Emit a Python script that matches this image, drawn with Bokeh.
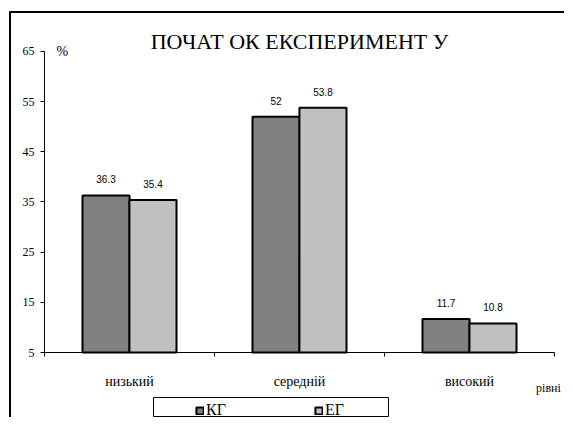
from bokeh.plotting import figure
from bokeh.models import (ColumnDataSource, Range1d, LinearAxis, FixedTicker,
                          Label, Legend, LegendItem, BoxAnnotation)
from bokeh.transform import dodge
from bokeh.embed import file_html
from bokeh.resources import INLINE
from bokeh.core.properties import value

# ---- data ----
chart_title = "ПОЧАТ ОК ЕКСПЕРИМЕНТ У"
categories = ["низький", "середній", "високий"]
series_names = ["КГ", "ЕГ"]
kg_values = [36.3, 52.0, 11.7]
eg_values = [35.4, 53.8, 10.8]
y_ticks = [5, 15, 25, 35, 45, 55, 65]
y_unit = "%"
x_unit = "рівні"

SERIF = "Liberation Serif"
SANS = "Liberation Sans"

# ---- layout (pixels) ----
W, H = 555, 406          # canvas size
CX0, CY0 = 10, 14        # canvas origin on the page
PX_X = 170.0             # px per category
PX_Y = 5.017             # px per percent
AX_X, AX_Y = 43, 353     # page px of (x=0, y=5)

def sx(px):
    return (px - AX_X) / PX_X

def sy(py):
    return y_ticks[0] - (py - AX_Y) / PX_Y

centers = [i + 0.5 for i in range(len(categories))]
bounds = list(range(len(categories) + 1))

src = ColumnDataSource(dict(
    x=centers,
    kg=kg_values,
    eg=eg_values,
    kg_lbl=[f"{v:g}" for v in kg_values],
    eg_lbl=[f"{v:g}" for v in eg_values],
))

p = figure(width=W, height=H,
           x_range=Range1d(sx(CX0), sx(CX0 + W)),
           y_range=Range1d(sy(CY0 + H), sy(CY0)),
           x_axis_type=None, y_axis_type=None,
           output_backend="svg", toolbar_location=None,
           min_border_left=0, min_border_right=0,
           min_border_top=0, min_border_bottom=0)
p.outline_line_color = None
p.background_fill_color = "white"
p.border_fill_color = "white"
p.styles = {"border-left": "2px solid black", "border-top": "2px solid black",
            "margin-top": "11px", "margin-left": "9px"}

yax = LinearAxis(ticker=FixedTicker(ticks=y_ticks, minor_ticks=[]),
                 fixed_location=0, bounds=(y_ticks[0], y_ticks[-1]),
                 major_tick_out=4, major_tick_in=0, minor_tick_out=0, minor_tick_in=0,
                 major_label_standoff=6,
                 major_label_text_font=SERIF, major_label_text_font_size="12px",
                 major_label_text_color="black",
                 axis_line_color="black", major_tick_line_color="black")
p.add_layout(yax, "left")

xax = LinearAxis(ticker=FixedTicker(ticks=centers, minor_ticks=bounds),
                 fixed_location=y_ticks[0], bounds=(0, len(categories)),
                 major_label_overrides={c: n for c, n in zip(centers, categories)},
                 major_tick_line_color=None, major_tick_out=0, major_tick_in=0,
                 minor_tick_out=4, minor_tick_in=0, minor_tick_line_color="black",
                 major_label_standoff=17,
                 major_label_text_font=SERIF, major_label_text_font_size="14px",
                 major_label_text_color="black",
                 axis_line_color="black")
p.add_layout(xax, "below")

bw = 0.277
off = 0.138
r_kg = p.vbar(x=dodge("x", -off), top="kg", bottom=y_ticks[0], width=bw,
              fill_color="#808080", line_color="black", line_width=2, source=src)
r_eg = p.vbar(x=dodge("x", off), top="eg", bottom=y_ticks[0], width=bw,
              fill_color="#c0c0c0", line_color="black", line_width=2, source=src)

for col, lbl, o in (("kg", "kg_lbl", -off), ("eg", "eg_lbl", off)):
    p.text(x=dodge("x", o), y=col, text=lbl, source=src,
           y_offset=-16, text_align="center", text_baseline="alphabetic",
           text_font=value(SANS), text_font_size="10px", text_color="black")

# title and unit labels
p.add_layout(Label(x=len(categories) / 2, y=sy(42), text=chart_title, text_font=SERIF,
                   text_font_size="22px", text_align="center",
                   text_baseline="alphabetic", text_color="black"))
p.add_layout(Label(x=sx(55), y=y_ticks[-1], text=y_unit, text_font=SERIF,
                   text_font_size="14px", text_baseline="alphabetic", text_color="black"))
p.add_layout(Label(x=sx(547), y=sy(388), text=x_unit, text_font=SERIF,
                   text_font_size="12px", text_align="center",
                   text_baseline="alphabetic", text_color="black"))

# legend frame
p.add_layout(BoxAnnotation(left=sx(152), right=sx(387), top=sy(398), bottom=sy(417),
                           fill_alpha=0, line_color="black", line_width=1, line_alpha=1))

legend = Legend(items=[LegendItem(label=series_names[0], renderers=[r_kg]),
                       LegendItem(label=series_names[1], renderers=[r_eg])],
                orientation="horizontal", location=(194 - CX0, 0),
                padding=2, spacing=84, label_width=24, label_standoff=2,
                glyph_width=9, glyph_height=9, margin=0,
                border_line_color=None, background_fill_alpha=0,
                label_text_font=SERIF, label_text_font_size="16px",
                label_text_color="black")
p.add_layout(legend, "center")

open("out.html", "w").write(file_html(p, INLINE))
